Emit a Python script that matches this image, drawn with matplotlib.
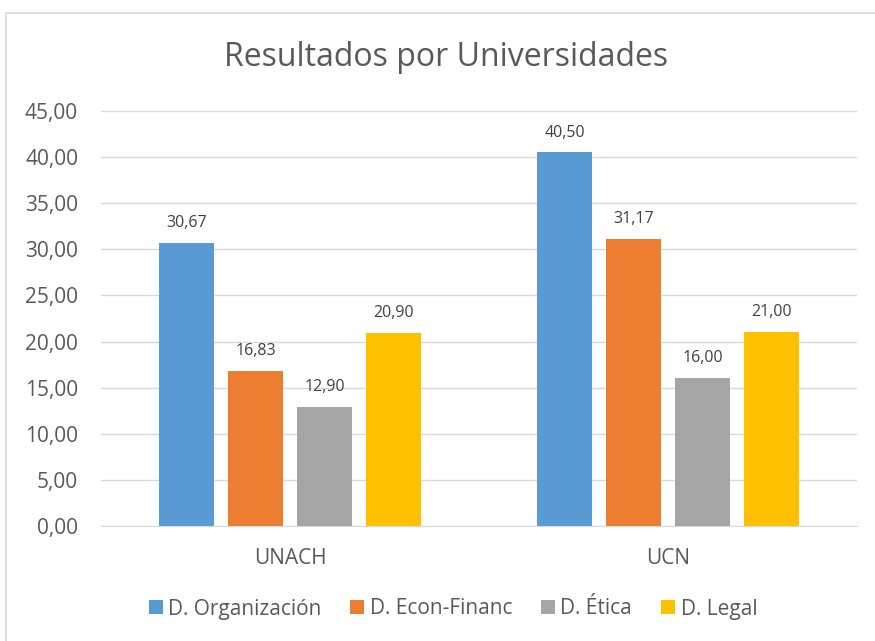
import matplotlib
matplotlib.use("Agg")
import matplotlib.pyplot as plt
import numpy as np
from matplotlib.patches import Rectangle

plt.rcParams['font.family'] = ['Open Sans', 'DejaVu Sans']

categories = ["UNACH", "UCN"]
series_names = ["D. Organización", "D. Econ-Financ", "D. Ética", "D. Legal"]
organizacion = [30.67, 40.50]
econ_financ = [16.83, 31.17]
etica = [12.90, 16.00]
legal = [20.90, 21.00]
series_values = [organizacion, econ_financ, etica, legal]
colors = ["#5B9BD5", "#ED7D31", "#A5A5A5", "#FFC000"]
yticks = np.arange(0, 46, 5)

def fmt(v):
    return f"{v:.2f}".replace(".", ",")

fig = plt.figure(figsize=(8.75, 6.41), dpi=100)
fig.patches.append(Rectangle((6/875, -0.1), 1.2, 1 - 13/641 + 0.1, transform=fig.transFigure,
                             fill=False, edgecolor="#D9D9D9", linewidth=1.2))
ax = fig.add_axes([101/875, 1 - 526/641, 756/875, (526 - 111)/641])

x = np.arange(len(categories))
width = 0.143
step = 0.1825
offsets = (np.arange(len(series_names)) - 1.5) * step
text_color = "#595959"
for i, (name, vals) in enumerate(zip(series_names, series_values)):
    bars = ax.bar(x + offsets[i], vals, width, color=colors[i], label=name, zorder=3)
    for b, v in zip(bars, vals):
        ax.text(b.get_x() + b.get_width() / 2, v + 1.3, fmt(v), ha="center", va="bottom",
                fontsize=11.5, color="#404040")

ax.set_xlim(-0.5, 1.5)
ax.set_ylim(0, 45)
ax.set_yticks(yticks)
ax.set_yticklabels([fmt(t) for t in yticks], fontsize=15, color=text_color)
ax.set_xticks(x)
ax.set_xticklabels(categories, fontsize=15, color=text_color)
ax.tick_params(axis="both", length=0)
ax.tick_params(axis="y", pad=16.5)
ax.tick_params(axis="x", pad=16)
ax.grid(axis="y", color="#D9D9D9", linewidth=1, zorder=0)
for s in ["top", "right", "left"]:
    ax.spines[s].set_visible(False)
ax.spines["bottom"].set_color("#D9D9D9")

fig.text(446/875, 1 - 58/641, "Resultados por Universidades", ha="center", va="center",
         fontsize=23, color=text_color)

leg = fig.legend(loc="center", bbox_to_anchor=(453/875, 1 - 609/641), ncol=4, frameon=False,
                 fontsize=15, handlelength=0.67, handleheight=0.67, handletextpad=0.25,
                 columnspacing=1.4, labelcolor=text_color)

fig.savefig("out.png", dpi=100)
